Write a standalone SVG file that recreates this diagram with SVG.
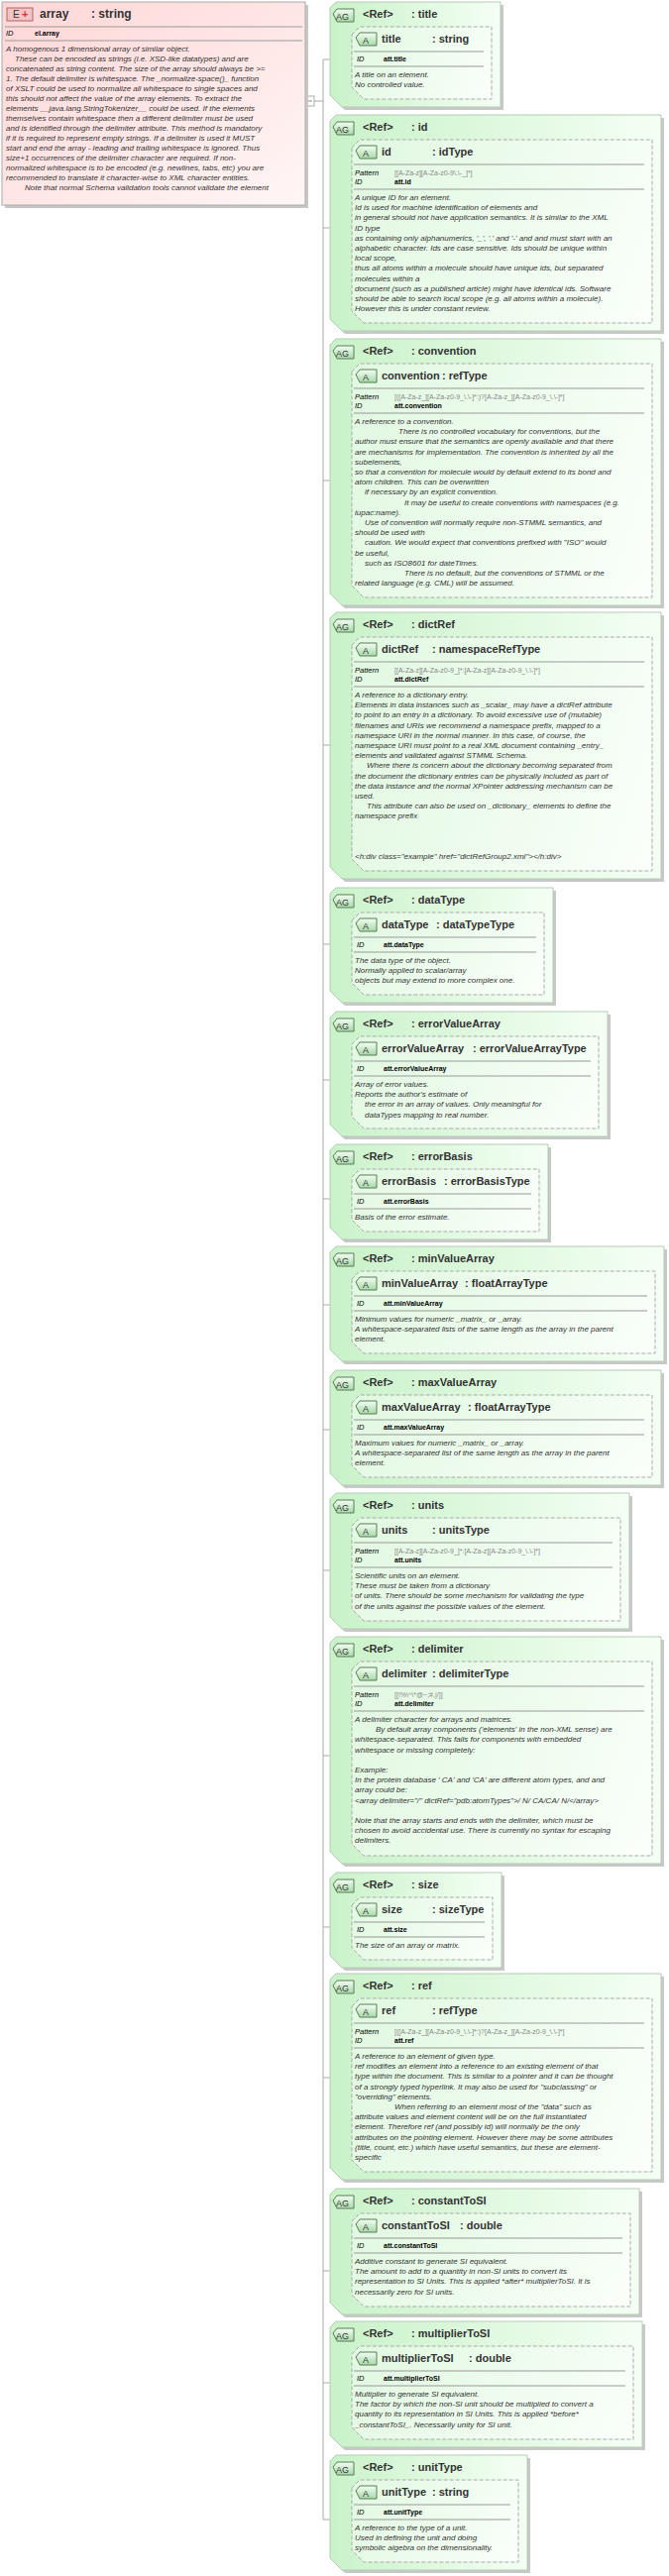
<svg xmlns="http://www.w3.org/2000/svg" width="675" height="2600" viewBox="0 0 675 2600">
<defs>
<linearGradient id="gA" x1="0" y1="0" x2="1" y2="0"><stop offset="0" stop-color="#c9f2c9"/><stop offset="1" stop-color="#f5fff5"/></linearGradient>
<linearGradient id="gI" x1="0" y1="0" x2="1" y2="1"><stop offset="0" stop-color="#eefcee"/><stop offset="1" stop-color="#ffffff"/></linearGradient>
<linearGradient id="gE" x1="0" y1="0" x2="1" y2="1"><stop offset="0" stop-color="#ffd6d6"/><stop offset="1" stop-color="#fff6f6"/></linearGradient>
<linearGradient id="gB" x1="0" y1="0" x2="0" y2="1"><stop offset="0" stop-color="#f2fff2"/><stop offset="1" stop-color="#a8d8a8"/></linearGradient>
</defs>
<style>
text{font-family:"Liberation Sans",Arial,sans-serif;fill:#333}
.ah{font-size:11px;font-weight:bold}
.h{font-size:11px;font-weight:bold}
.d{font-size:8px;font-style:italic}
.l{font-size:7.5px;font-style:italic;fill:#000}
.v{font-size:7px;font-weight:bold;fill:#000}
.p{font-size:7px;fill:#888}
.bd{font-size:9px;fill:#333}
.sh{fill:#c8c8c8}
.o{fill:url(#gA);stroke:#b4ccb4;stroke-width:1}
.i{fill:url(#gI);fill-opacity:0.6;stroke:#aaa;stroke-width:1;stroke-dasharray:4,2}
.ln{stroke:#999;stroke-width:1}
.b{fill:url(#gB);stroke:#5a7a5a;stroke-width:1}
.c{stroke:#aaa;stroke-width:1;fill:none}
</style>

<g id="connectors">
<line class="c" x1="317" y1="102" x2="326" y2="102"/>
<line class="c" x1="326" y1="60" x2="326" y2="2543"/>
<line class="c" x1="326" y1="60" x2="333" y2="60"/>
<line class="c" x1="326" y1="230" x2="333" y2="230"/>
<line class="c" x1="326" y1="485" x2="333" y2="485"/>
<line class="c" x1="326" y1="752" x2="333" y2="752"/>
<line class="c" x1="326" y1="953" x2="333" y2="953"/>
<line class="c" x1="326" y1="1090" x2="333" y2="1090"/>
<line class="c" x1="326" y1="1210" x2="333" y2="1210"/>
<line class="c" x1="326" y1="1317" x2="333" y2="1317"/>
<line class="c" x1="326" y1="1443" x2="333" y2="1443"/>
<line class="c" x1="326" y1="1585" x2="333" y2="1585"/>
<line class="c" x1="326" y1="1772" x2="333" y2="1772"/>
<line class="c" x1="326" y1="1945" x2="333" y2="1945"/>
<line class="c" x1="326" y1="2097" x2="333" y2="2097"/>
<line class="c" x1="326" y1="2292" x2="333" y2="2292"/>
<line class="c" x1="326" y1="2405" x2="333" y2="2405"/>
<line class="c" x1="326" y1="2543" x2="333" y2="2543"/>
<rect x="309" y="97" width="8" height="10" fill="#fff" stroke="#aaa"/>
<line x1="311" y1="102" x2="315" y2="102" stroke="#888"/>
</g>

<g id="array">
<rect x="5" y="5" width="306" height="205" class="sh"/>
<rect x="2" y="2" width="306" height="205" fill="url(#gE)" stroke="#aaa"/>
<rect x="7" y="8" width="26" height="13" fill="#f4c4c4" stroke="#a66"/>
<text x="13" y="18" style="font-size:10px">E</text><text x="22" y="18" style="font-size:11px;font-weight:bold;fill:#c33">+</text>
<text x="40" y="18" class="h" style="font-size:12px">array</text>
<text x="92" y="18" class="h" style="font-size:12px">: string</text>
<line class="ln" x1="5" y1="27" x2="305" y2="27"/>
<text x="6" y="36" class="l">ID</text><text x="35" y="36" class="v">el.array</text>
<line class="ln" x1="5" y1="41" x2="305" y2="41"/>
<text class="d" y="52"><tspan x="6">A homogenous 1 dimensional array of similar object.</tspan><tspan x="15" dy="10">These can be encoded as strings (i.e. XSD-like datatypes) and are</tspan><tspan x="6" dy="10">concatenated as string content. The size of the array should always be &gt;=</tspan><tspan x="6" dy="10">1. The default delimiter is whitespace. The _normalize-space()_ function</tspan><tspan x="6" dy="10">of XSLT could be used to normalize all whitespace to single spaces and</tspan><tspan x="6" dy="10">this should not affect the value of the array elements. To extract the</tspan><tspan x="6" dy="10">elements __java.lang.StringTokenizer__ could be used. If the elements</tspan><tspan x="6" dy="10">themselves contain whitespace then a different delimiter must be used</tspan><tspan x="6" dy="10">and is identified through the delimiter attribute. This method is mandatory</tspan><tspan x="6" dy="10">if it is required to represent empty strings. If a delimiter is used it MUST</tspan><tspan x="6" dy="10">start and end the array - leading and trailing whitespace is ignored. Thus</tspan><tspan x="6" dy="10">size+1 occurrences of the delimiter character are required. If non-</tspan><tspan x="6" dy="10">normalized whitespace is to be encoded (e.g. newlines, tabs, etc) you are</tspan><tspan x="6" dy="10">recommended to translate it character-wise to XML character entities.</tspan><tspan x="25" dy="10">Note that normal Schema validation tools cannot validate the element</tspan></text>
</g>

<g id="title">
<path class="sh" d="M336,11 L342,5 L508,5 L508,111 L348,111 L336,99 Z"/>
<path class="o" d="M333,8 L339,2 L505,2 L505,108 L345,108 L333,96 Z"/>
<path class="b" d="M336,14 L340,9 L357,9 L357,22 L340,22 Z"/><text x="339" y="19.5" class="bd">AG</text>
<text x="366" y="18" class="ah">&lt;Ref&gt;</text><text x="415" y="18" class="ah">: title</text>
<path class="i" d="M355,35 L363,27 L496,27 L496,100 L367,100 L355,88 Z"/>
<path class="b" d="M359,38 L363,33 L380,33 L380,46 L363,46 Z"/><text x="366" y="43.5" class="bd">A</text>
<text x="385" y="43" class="h">title</text><text x="436" y="43" class="h">: string</text>
<line class="ln" x1="357" y1="52" x2="488" y2="52"/>
<text x="360" y="62" class="l">ID</text><text x="387" y="62" class="v">att.title</text>
<line class="ln" x1="357" y1="67" x2="488" y2="67"/>
<text class="d" y="78"><tspan x="358">A title on an element.</tspan><tspan x="358" dy="10.2">No controlled value.</tspan></text>
</g>

<g id="id">
<path class="sh" d="M336,125 L342,119 L670,119 L670,337 L348,337 L336,325 Z"/>
<path class="o" d="M333,122 L339,116 L667,116 L667,334 L345,334 L333,322 Z"/>
<path class="b" d="M336,128 L340,123 L357,123 L357,136 L340,136 Z"/><text x="339" y="133.5" class="bd">AG</text>
<text x="366" y="132" class="ah">&lt;Ref&gt;</text><text x="415" y="132" class="ah">: id</text>
<path class="i" d="M355,149 L363,141 L658,141 L658,326 L367,326 L355,314 Z"/>
<path class="b" d="M359,152 L363,147 L380,147 L380,160 L363,160 Z"/><text x="366" y="157.5" class="bd">A</text>
<text x="385" y="157" class="h">id</text><text x="436" y="157" class="h">: idType</text>
<line class="ln" x1="357" y1="166" x2="650" y2="166"/>
<text x="358" y="177" class="l">Pattern</text><text x="398" y="177" class="p">[[A-Za-z][A-Za-z0-9\.\-_]*]</text>
<text x="358" y="186" class="l">ID</text><text x="398" y="186" class="v">att.id</text>
<line class="ln" x1="357" y1="191" x2="650" y2="191"/>
<text class="d" y="202"><tspan x="358">A unique ID for an element.</tspan><tspan x="358" dy="10.2">Id is used for machine identification of elements and</tspan><tspan x="358" dy="10.2">in general should not have application semantics. It is similar to the XML</tspan><tspan x="358" dy="10.2">ID type</tspan><tspan x="358" dy="10.2">as containing only alphanumerics, '_', '.' and '-' and and must start with an</tspan><tspan x="358" dy="10.2">alphabetic character. Ids are case sensitive. Ids should be unique within</tspan><tspan x="358" dy="10.2">local scope,</tspan><tspan x="358" dy="10.2">thus all atoms within a molecule should have unique ids, but separated</tspan><tspan x="358" dy="10.2">molecules within a</tspan><tspan x="358" dy="10.2">document (such as a published article) might have identical ids. Software</tspan><tspan x="358" dy="10.2">should be able to search local scope (e.g. all atoms within a molecule).</tspan><tspan x="358" dy="10.2">However this is under constant review.</tspan></text>
</g>

<g id="convention">
<path class="sh" d="M336,351 L342,345 L670,345 L670,614 L348,614 L336,602 Z"/>
<path class="o" d="M333,348 L339,342 L667,342 L667,611 L345,611 L333,599 Z"/>
<path class="b" d="M336,354 L340,349 L357,349 L357,362 L340,362 Z"/><text x="339" y="359.5" class="bd">AG</text>
<text x="366" y="358" class="ah">&lt;Ref&gt;</text><text x="415" y="358" class="ah">: convention</text>
<path class="i" d="M355,375 L363,367 L658,367 L658,603 L367,603 L355,591 Z"/>
<path class="b" d="M359,378 L363,373 L380,373 L380,386 L363,386 Z"/><text x="366" y="383.5" class="bd">A</text>
<text x="385" y="383" class="h">convention</text><text x="446" y="383" class="h">: refType</text>
<line class="ln" x1="357" y1="392" x2="650" y2="392"/>
<text x="358" y="403" class="l">Pattern</text><text x="398" y="403" class="p">[([A-Za-z_][A-Za-z0-9_\.\-]*:)?[A-Za-z_][A-Za-z0-9_\.\-]*]</text>
<text x="358" y="412" class="l">ID</text><text x="398" y="412" class="v">att.convention</text>
<line class="ln" x1="357" y1="417" x2="650" y2="417"/>
<text class="d" y="428"><tspan x="358">A reference to a convention.</tspan><tspan x="402" dy="10.2">There is no controlled vocabulary for conventions, but the</tspan><tspan x="358" dy="10.2">author must ensure that the semantics are openly available and that there</tspan><tspan x="358" dy="10.2">are mechanisms for implementation. The convention is inherited by all the</tspan><tspan x="358" dy="10.2">subelements,</tspan><tspan x="358" dy="10.2">so that a convention for molecule would by default extend to its bond and</tspan><tspan x="358" dy="10.2">atom children. This can be overwritten</tspan><tspan x="368" dy="10.2">if necessary by an explicit convention.</tspan><tspan x="408" dy="10.2">It may be useful to create conventions with namespaces (e.g.</tspan><tspan x="358" dy="10.2">iupac:name).</tspan><tspan x="368" dy="10.2">Use of convention will normally require non-STMML semantics, and</tspan><tspan x="358" dy="10.2">should be used with</tspan><tspan x="368" dy="10.2">caution. We would expect that conventions prefixed with "ISO" would</tspan><tspan x="358" dy="10.2">be useful,</tspan><tspan x="368" dy="10.2">such as ISO8601 for dateTimes.</tspan><tspan x="408" dy="10.2">There is no default, but the conventions of STMML or the</tspan><tspan x="358" dy="10.2">related language (e.g. CML) will be assumed.</tspan></text>
</g>

<g id="dictRef">
<path class="sh" d="M336,627 L342,621 L670,621 L670,890 L348,890 L336,878 Z"/>
<path class="o" d="M333,624 L339,618 L667,618 L667,887 L345,887 L333,875 Z"/>
<path class="b" d="M336,630 L340,625 L357,625 L357,638 L340,638 Z"/><text x="339" y="635.5" class="bd">AG</text>
<text x="366" y="634" class="ah">&lt;Ref&gt;</text><text x="415" y="634" class="ah">: dictRef</text>
<path class="i" d="M355,651 L363,643 L658,643 L658,879 L367,879 L355,867 Z"/>
<path class="b" d="M359,654 L363,649 L380,649 L380,662 L363,662 Z"/><text x="366" y="659.5" class="bd">A</text>
<text x="385" y="659" class="h">dictRef</text><text x="436" y="659" class="h">: namespaceRefType</text>
<line class="ln" x1="357" y1="668" x2="650" y2="668"/>
<text x="358" y="679" class="l">Pattern</text><text x="398" y="679" class="p">[[A-Za-z][A-Za-z0-9_]*:[A-Za-z][A-Za-z0-9_\.\-]*]</text>
<text x="358" y="688" class="l">ID</text><text x="398" y="688" class="v">att.dictRef</text>
<line class="ln" x1="357" y1="693" x2="650" y2="693"/>
<text class="d" y="704"><tspan x="358">A reference to a dictionary entry.</tspan><tspan x="358" dy="10.2">Elements in data instances such as _scalar_ may have a dictRef attribute</tspan><tspan x="358" dy="10.2">to point to an entry in a dictionary. To avoid excessive use of (mutable)</tspan><tspan x="358" dy="10.2">filenames and URIs we recommend a namespace prefix, mapped to a</tspan><tspan x="358" dy="10.2">namespace URI in the normal manner. In this case, of course, the</tspan><tspan x="358" dy="10.2">namespace URI must point to a real XML document containing _entry_</tspan><tspan x="358" dy="10.2">elements and validated against STMML Schema.</tspan><tspan x="370" dy="10.2">Where there is concern about the dictionary becoming separated from</tspan><tspan x="358" dy="10.2">the document the dictionary entries can be physically included as part of</tspan><tspan x="358" dy="10.2">the data instance and the normal XPointer addressing mechanism can be</tspan><tspan x="358" dy="10.2">used.</tspan><tspan x="370" dy="10.2">This attribute can also be used on _dictionary_ elements to define the</tspan><tspan x="358" dy="10.2">namespace prefix</tspan><tspan x="358" dy="40.8">&lt;h:div class="example" href="dictRefGroup2.xml"&gt;&lt;/h:div&gt;</tspan></text>
</g>

<g id="dataType">
<path class="sh" d="M336,905 L342,899 L561,899 L561,1015 L348,1015 L336,1003 Z"/>
<path class="o" d="M333,902 L339,896 L558,896 L558,1012 L345,1012 L333,1000 Z"/>
<path class="b" d="M336,908 L340,903 L357,903 L357,916 L340,916 Z"/><text x="339" y="913.5" class="bd">AG</text>
<text x="366" y="912" class="ah">&lt;Ref&gt;</text><text x="415" y="912" class="ah">: dataType</text>
<path class="i" d="M355,929 L363,921 L549,921 L549,1004 L367,1004 L355,992 Z"/>
<path class="b" d="M359,932 L363,927 L380,927 L380,940 L363,940 Z"/><text x="366" y="937.5" class="bd">A</text>
<text x="385" y="937" class="h">dataType</text><text x="440" y="937" class="h">: dataTypeType</text>
<line class="ln" x1="357" y1="946" x2="541" y2="946"/>
<text x="360" y="956" class="l">ID</text><text x="387" y="956" class="v">att.dataType</text>
<line class="ln" x1="357" y1="961" x2="541" y2="961"/>
<text class="d" y="972"><tspan x="358">The data type of the object.</tspan><tspan x="358" dy="10.2">Normally applied to scalar/array</tspan><tspan x="358" dy="10.2">objects but may extend to more complex one.</tspan></text>
</g>

<g id="errorValueArray">
<path class="sh" d="M336,1030 L342,1024 L616,1024 L616,1150 L348,1150 L336,1138 Z"/>
<path class="o" d="M333,1027 L339,1021 L613,1021 L613,1147 L345,1147 L333,1135 Z"/>
<path class="b" d="M336,1033 L340,1028 L357,1028 L357,1041 L340,1041 Z"/><text x="339" y="1038.5" class="bd">AG</text>
<text x="366" y="1037" class="ah">&lt;Ref&gt;</text><text x="415" y="1037" class="ah">: errorValueArray</text>
<path class="i" d="M355,1054 L363,1046 L604,1046 L604,1139 L367,1139 L355,1127 Z"/>
<path class="b" d="M359,1057 L363,1052 L380,1052 L380,1065 L363,1065 Z"/><text x="366" y="1062.5" class="bd">A</text>
<text x="385" y="1062" class="h">errorValueArray</text><text x="477" y="1062" class="h">: errorValueArrayType</text>
<line class="ln" x1="357" y1="1071" x2="596" y2="1071"/>
<text x="360" y="1081" class="l">ID</text><text x="387" y="1081" class="v">att.errorValueArray</text>
<line class="ln" x1="357" y1="1086" x2="596" y2="1086"/>
<text class="d" y="1097"><tspan x="358">Array of error values.</tspan><tspan x="358" dy="10.2">Reports the author's estimate of</tspan><tspan x="368" dy="10.2">the error in an array of values. Only meaningful for</tspan><tspan x="368" dy="10.2">dataTypes mapping to real number.</tspan></text>
</g>

<g id="errorBasis">
<path class="sh" d="M336,1164 L342,1158 L556,1158 L556,1254 L348,1254 L336,1242 Z"/>
<path class="o" d="M333,1161 L339,1155 L553,1155 L553,1251 L345,1251 L333,1239 Z"/>
<path class="b" d="M336,1167 L340,1162 L357,1162 L357,1175 L340,1175 Z"/><text x="339" y="1172.5" class="bd">AG</text>
<text x="366" y="1171" class="ah">&lt;Ref&gt;</text><text x="415" y="1171" class="ah">: errorBasis</text>
<path class="i" d="M355,1188 L363,1180 L544,1180 L544,1243 L367,1243 L355,1231 Z"/>
<path class="b" d="M359,1191 L363,1186 L380,1186 L380,1199 L363,1199 Z"/><text x="366" y="1196.5" class="bd">A</text>
<text x="385" y="1196" class="h">errorBasis</text><text x="448" y="1196" class="h">: errorBasisType</text>
<line class="ln" x1="357" y1="1205" x2="536" y2="1205"/>
<text x="360" y="1215" class="l">ID</text><text x="387" y="1215" class="v">att.errorBasis</text>
<line class="ln" x1="357" y1="1220" x2="536" y2="1220"/>
<text class="d" y="1231"><tspan x="358">Basis of the error estimate.</tspan></text>
</g>

<g id="minValueArray">
<path class="sh" d="M336,1267 L342,1261 L673,1261 L673,1377 L348,1377 L336,1365 Z"/>
<path class="o" d="M333,1264 L339,1258 L670,1258 L670,1374 L345,1374 L333,1362 Z"/>
<path class="b" d="M336,1270 L340,1265 L357,1265 L357,1278 L340,1278 Z"/><text x="339" y="1275.5" class="bd">AG</text>
<text x="366" y="1274" class="ah">&lt;Ref&gt;</text><text x="415" y="1274" class="ah">: minValueArray</text>
<path class="i" d="M355,1291 L363,1283 L661,1283 L661,1366 L367,1366 L355,1354 Z"/>
<path class="b" d="M359,1294 L363,1289 L380,1289 L380,1302 L363,1302 Z"/><text x="366" y="1299.5" class="bd">A</text>
<text x="385" y="1299" class="h">minValueArray</text><text x="469" y="1299" class="h">: floatArrayType</text>
<line class="ln" x1="357" y1="1308" x2="653" y2="1308"/>
<text x="360" y="1318" class="l">ID</text><text x="387" y="1318" class="v">att.minValueArray</text>
<line class="ln" x1="357" y1="1323" x2="653" y2="1323"/>
<text class="d" y="1334"><tspan x="358">Minimum values for numeric _matrix_ or _array.</tspan><tspan x="358" dy="10.2">A whitespace-separated lists of the same length as the array in the parent</tspan><tspan x="358" dy="10.2">element.</tspan></text>
</g>

<g id="maxValueArray">
<path class="sh" d="M336,1392 L342,1386 L670,1386 L670,1502 L348,1502 L336,1490 Z"/>
<path class="o" d="M333,1389 L339,1383 L667,1383 L667,1499 L345,1499 L333,1487 Z"/>
<path class="b" d="M336,1395 L340,1390 L357,1390 L357,1403 L340,1403 Z"/><text x="339" y="1400.5" class="bd">AG</text>
<text x="366" y="1399" class="ah">&lt;Ref&gt;</text><text x="415" y="1399" class="ah">: maxValueArray</text>
<path class="i" d="M355,1416 L363,1408 L658,1408 L658,1491 L367,1491 L355,1479 Z"/>
<path class="b" d="M359,1419 L363,1414 L380,1414 L380,1427 L363,1427 Z"/><text x="366" y="1424.5" class="bd">A</text>
<text x="385" y="1424" class="h">maxValueArray</text><text x="472" y="1424" class="h">: floatArrayType</text>
<line class="ln" x1="357" y1="1433" x2="650" y2="1433"/>
<text x="360" y="1443" class="l">ID</text><text x="387" y="1443" class="v">att.maxValueArray</text>
<line class="ln" x1="357" y1="1448" x2="650" y2="1448"/>
<text class="d" y="1459"><tspan x="358">Maximum values for numeric _matrix_ or _array.</tspan><tspan x="358" dy="10.2">A whitespace-separated list of the same length as the array in the parent</tspan><tspan x="358" dy="10.2">element.</tspan></text>
</g>

<g id="units">
<path class="sh" d="M336,1516 L342,1510 L638,1510 L638,1647 L348,1647 L336,1635 Z"/>
<path class="o" d="M333,1513 L339,1507 L635,1507 L635,1644 L345,1644 L333,1632 Z"/>
<path class="b" d="M336,1519 L340,1514 L357,1514 L357,1527 L340,1527 Z"/><text x="339" y="1524.5" class="bd">AG</text>
<text x="366" y="1523" class="ah">&lt;Ref&gt;</text><text x="415" y="1523" class="ah">: units</text>
<path class="i" d="M355,1540 L363,1532 L626,1532 L626,1636 L367,1636 L355,1624 Z"/>
<path class="b" d="M359,1543 L363,1538 L380,1538 L380,1551 L363,1551 Z"/><text x="366" y="1548.5" class="bd">A</text>
<text x="385" y="1548" class="h">units</text><text x="436" y="1548" class="h">: unitsType</text>
<line class="ln" x1="357" y1="1557" x2="618" y2="1557"/>
<text x="358" y="1568" class="l">Pattern</text><text x="398" y="1568" class="p">[[A-Za-z][A-Za-z0-9_]*:[A-Za-z][A-Za-z0-9_\.\-]*]</text>
<text x="358" y="1577" class="l">ID</text><text x="398" y="1577" class="v">att.units</text>
<line class="ln" x1="357" y1="1582" x2="618" y2="1582"/>
<text class="d" y="1593"><tspan x="358">Scientific units on an element.</tspan><tspan x="358" dy="10.2">These must be taken from a dictionary</tspan><tspan x="358" dy="10.2">of units. There should be some mechanism for validating the type</tspan><tspan x="358" dy="10.2">of the units against the possible values of the element.</tspan></text>
</g>

<g id="delimiter">
<path class="sh" d="M336,1661 L342,1655 L670,1655 L670,1884 L348,1884 L336,1872 Z"/>
<path class="o" d="M333,1658 L339,1652 L667,1652 L667,1881 L345,1881 L333,1869 Z"/>
<path class="b" d="M336,1664 L340,1659 L357,1659 L357,1672 L340,1672 Z"/><text x="339" y="1669.5" class="bd">AG</text>
<text x="366" y="1668" class="ah">&lt;Ref&gt;</text><text x="415" y="1668" class="ah">: delimiter</text>
<path class="i" d="M355,1685 L363,1677 L658,1677 L658,1873 L367,1873 L355,1861 Z"/>
<path class="b" d="M359,1688 L363,1683 L380,1683 L380,1696 L363,1696 Z"/><text x="366" y="1693.5" class="bd">A</text>
<text x="385" y="1693" class="h">delimiter</text><text x="436" y="1693" class="h">: delimiterType</text>
<line class="ln" x1="357" y1="1702" x2="650" y2="1702"/>
<text x="358" y="1713" class="l">Pattern</text><text x="398" y="1713" class="p">[[!%\^\*@~;#,|/]]</text>
<text x="358" y="1722" class="l">ID</text><text x="398" y="1722" class="v">att.delimiter</text>
<line class="ln" x1="357" y1="1727" x2="650" y2="1727"/>
<text class="d" y="1738"><tspan x="358">A delimiter character for arrays and matrices.</tspan><tspan x="379" dy="10.2">By default array components ('elements' in the non-XML sense) are</tspan><tspan x="358" dy="10.2">whitespace-separated. This fails for components with embedded</tspan><tspan x="358" dy="10.2">whitespace or missing completely:</tspan><tspan x="358" dy="20.4">Example:</tspan><tspan x="358" dy="10.2">In the protein database ' CA' and 'CA' are different atom types, and and</tspan><tspan x="358" dy="10.2">array could be:</tspan><tspan x="358" dy="10.2">&lt;array delimiter="/" dictRef="pdb:atomTypes"&gt;/ N/ CA/CA/ N/&lt;/array&gt;</tspan><tspan x="358" dy="20.4">Note that the array starts and ends with the delimiter, which must be</tspan><tspan x="358" dy="10.2">chosen to avoid accidental use. There is currently no syntax for escaping</tspan><tspan x="358" dy="10.2">delimiters.</tspan></text>
</g>

<g id="size">
<path class="sh" d="M336,1899 L342,1893 L509,1893 L509,1989 L348,1989 L336,1977 Z"/>
<path class="o" d="M333,1896 L339,1890 L506,1890 L506,1986 L345,1986 L333,1974 Z"/>
<path class="b" d="M336,1902 L340,1897 L357,1897 L357,1910 L340,1910 Z"/><text x="339" y="1907.5" class="bd">AG</text>
<text x="366" y="1906" class="ah">&lt;Ref&gt;</text><text x="415" y="1906" class="ah">: size</text>
<path class="i" d="M355,1923 L363,1915 L497,1915 L497,1978 L367,1978 L355,1966 Z"/>
<path class="b" d="M359,1926 L363,1921 L380,1921 L380,1934 L363,1934 Z"/><text x="366" y="1931.5" class="bd">A</text>
<text x="385" y="1931" class="h">size</text><text x="436" y="1931" class="h">: sizeType</text>
<line class="ln" x1="357" y1="1940" x2="489" y2="1940"/>
<text x="360" y="1950" class="l">ID</text><text x="387" y="1950" class="v">att.size</text>
<line class="ln" x1="357" y1="1955" x2="489" y2="1955"/>
<text class="d" y="1966"><tspan x="358">The size of an array or matrix.</tspan></text>
</g>

<g id="ref">
<path class="sh" d="M336,2001 L342,1995 L670,1995 L670,2203 L348,2203 L336,2191 Z"/>
<path class="o" d="M333,1998 L339,1992 L667,1992 L667,2200 L345,2200 L333,2188 Z"/>
<path class="b" d="M336,2004 L340,1999 L357,1999 L357,2012 L340,2012 Z"/><text x="339" y="2009.5" class="bd">AG</text>
<text x="366" y="2008" class="ah">&lt;Ref&gt;</text><text x="415" y="2008" class="ah">: ref</text>
<path class="i" d="M355,2025 L363,2017 L658,2017 L658,2192 L367,2192 L355,2180 Z"/>
<path class="b" d="M359,2028 L363,2023 L380,2023 L380,2036 L363,2036 Z"/><text x="366" y="2033.5" class="bd">A</text>
<text x="385" y="2033" class="h">ref</text><text x="436" y="2033" class="h">: refType</text>
<line class="ln" x1="357" y1="2042" x2="650" y2="2042"/>
<text x="358" y="2053" class="l">Pattern</text><text x="398" y="2053" class="p">[([A-Za-z_][A-Za-z0-9_\.\-]*:)?[A-Za-z_][A-Za-z0-9_\.\-]*]</text>
<text x="358" y="2062" class="l">ID</text><text x="398" y="2062" class="v">att.ref</text>
<line class="ln" x1="357" y1="2067" x2="650" y2="2067"/>
<text class="d" y="2078"><tspan x="358">A reference to an element of given type.</tspan><tspan x="358" dy="10.2">ref modifies an element into a reference to an existing element of that</tspan><tspan x="358" dy="10.2">type within the document. This is similar to a pointer and it can be thought</tspan><tspan x="358" dy="10.2">of a strongly typed hyperlink. It may also be used for "subclassing" or</tspan><tspan x="358" dy="10.2">"overriding" elements.</tspan><tspan x="398" dy="10.2">When referring to an element most of the "data" such as</tspan><tspan x="358" dy="10.2">attribute values and element content will be on the full instantiated</tspan><tspan x="358" dy="10.2">element.  Therefore ref (and possibly id) will normally be the only</tspan><tspan x="358" dy="10.2">attributes on the pointing element. However there may be some attributes</tspan><tspan x="358" dy="10.2">(title, count, etc.) which have useful semantics, but these are element-</tspan><tspan x="358" dy="10.2">specific</tspan></text>
</g>

<g id="constantToSI">
<path class="sh" d="M336,2218 L342,2212 L648,2212 L648,2339 L348,2339 L336,2327 Z"/>
<path class="o" d="M333,2215 L339,2209 L645,2209 L645,2336 L345,2336 L333,2324 Z"/>
<path class="b" d="M336,2221 L340,2216 L357,2216 L357,2229 L340,2229 Z"/><text x="339" y="2226.5" class="bd">AG</text>
<text x="366" y="2225" class="ah">&lt;Ref&gt;</text><text x="415" y="2225" class="ah">: constantToSI</text>
<path class="i" d="M355,2242 L363,2234 L636,2234 L636,2328 L367,2328 L355,2316 Z"/>
<path class="b" d="M359,2245 L363,2240 L380,2240 L380,2253 L363,2253 Z"/><text x="366" y="2250.5" class="bd">A</text>
<text x="385" y="2250" class="h">constantToSI</text><text x="464" y="2250" class="h">: double</text>
<line class="ln" x1="357" y1="2259" x2="628" y2="2259"/>
<text x="360" y="2269" class="l">ID</text><text x="387" y="2269" class="v">att.constantToSI</text>
<line class="ln" x1="357" y1="2274" x2="628" y2="2274"/>
<text class="d" y="2285"><tspan x="358">Additive constant to generate SI equivalent.</tspan><tspan x="358" dy="10.2">The amount to add to a quantity in non-SI units to convert its</tspan><tspan x="358" dy="10.2">representation to SI Units. This is applied *after* multiplierToSI. It is</tspan><tspan x="358" dy="10.2">necessarily zero for SI units.</tspan></text>
</g>

<g id="multiplierToSI">
<path class="sh" d="M336,2352 L342,2346 L651,2346 L651,2473 L348,2473 L336,2461 Z"/>
<path class="o" d="M333,2349 L339,2343 L648,2343 L648,2470 L345,2470 L333,2458 Z"/>
<path class="b" d="M336,2355 L340,2350 L357,2350 L357,2363 L340,2363 Z"/><text x="339" y="2360.5" class="bd">AG</text>
<text x="366" y="2359" class="ah">&lt;Ref&gt;</text><text x="415" y="2359" class="ah">: multiplierToSI</text>
<path class="i" d="M355,2376 L363,2368 L639,2368 L639,2462 L367,2462 L355,2450 Z"/>
<path class="b" d="M359,2379 L363,2374 L380,2374 L380,2387 L363,2387 Z"/><text x="366" y="2384.5" class="bd">A</text>
<text x="385" y="2384" class="h">multiplierToSI</text><text x="473" y="2384" class="h">: double</text>
<line class="ln" x1="357" y1="2393" x2="631" y2="2393"/>
<text x="360" y="2403" class="l">ID</text><text x="387" y="2403" class="v">att.multiplierToSI</text>
<line class="ln" x1="357" y1="2408" x2="631" y2="2408"/>
<text class="d" y="2419"><tspan x="358">Multiplier to generate SI equivalent.</tspan><tspan x="358" dy="10.2">The factor by which the non-SI unit should be multiplied to convert a</tspan><tspan x="358" dy="10.2">quantity to its representation in SI Units. This is applied *before*</tspan><tspan x="358" dy="10.2">_constantToSI_. Necessarily unity for SI unit.</tspan></text>
</g>

<g id="unitType">
<path class="sh" d="M336,2487 L342,2481 L535,2481 L535,2597 L348,2597 L336,2585 Z"/>
<path class="o" d="M333,2484 L339,2478 L532,2478 L532,2594 L345,2594 L333,2582 Z"/>
<path class="b" d="M336,2490 L340,2485 L357,2485 L357,2498 L340,2498 Z"/><text x="339" y="2495.5" class="bd">AG</text>
<text x="366" y="2494" class="ah">&lt;Ref&gt;</text><text x="415" y="2494" class="ah">: unitType</text>
<path class="i" d="M355,2511 L363,2503 L523,2503 L523,2586 L367,2586 L355,2574 Z"/>
<path class="b" d="M359,2514 L363,2509 L380,2509 L380,2522 L363,2522 Z"/><text x="366" y="2519.5" class="bd">A</text>
<text x="385" y="2519" class="h">unitType</text><text x="436" y="2519" class="h">: string</text>
<line class="ln" x1="357" y1="2528" x2="515" y2="2528"/>
<text x="360" y="2538" class="l">ID</text><text x="387" y="2538" class="v">att.unitType</text>
<line class="ln" x1="357" y1="2543" x2="515" y2="2543"/>
<text class="d" y="2554"><tspan x="358">A reference to the type of a unit.</tspan><tspan x="358" dy="10.2">Used in defining the unit and doing</tspan><tspan x="358" dy="10.2">symbolic algebra on the dimensionality.</tspan></text>
</g>
</svg>
